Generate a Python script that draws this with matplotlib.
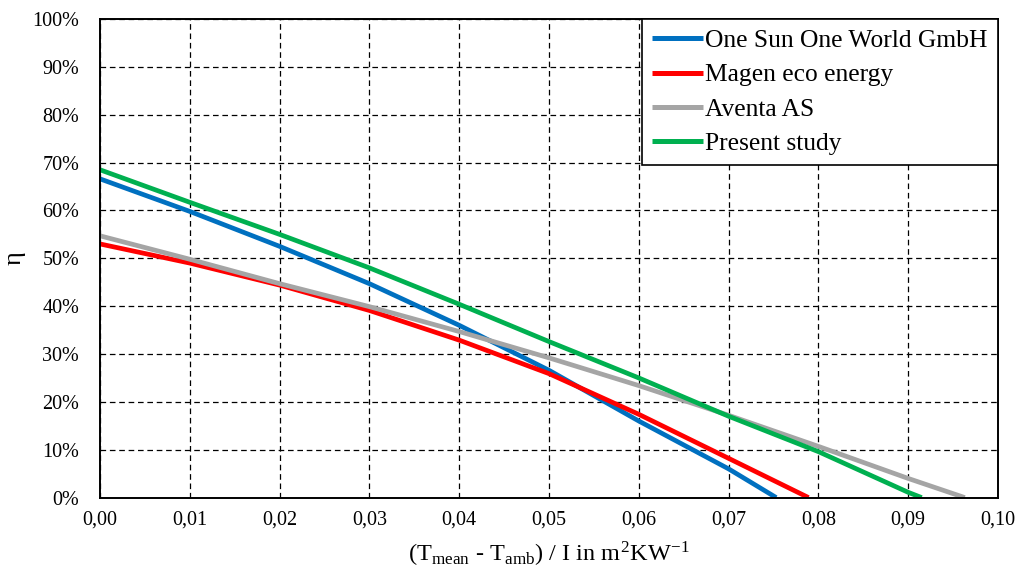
import matplotlib
matplotlib.use("Agg")
import matplotlib.pyplot as plt
from matplotlib.ticker import FuncFormatter, MultipleLocator

plt.rcParams['font.family'] = ['Liberation Serif', 'DejaVu Serif']
plt.rcParams['mathtext.fontset'] = 'stix'

# efficiency curves (x in m2K/W, eta in %)
x_onesun = [0.0, 0.01, 0.02, 0.03, 0.04, 0.05, 0.06, 0.07, 0.0753]
eta_onesun = [66.6, 59.8, 52.5, 44.7, 36.0, 26.6, 16.0, 6.0, 0.0]

x_magen = [0.0, 0.01, 0.02, 0.03, 0.04, 0.05, 0.06, 0.07, 0.0789]
eta_magen = [53.0, 49.0, 44.4, 39.1, 32.9, 25.9, 17.4, 8.2, 0.0]

x_aventa = [0.0, 0.01, 0.02, 0.03, 0.04, 0.05, 0.06, 0.07, 0.08, 0.09, 0.0963]
eta_aventa = [54.7, 49.8, 44.7, 39.9, 34.7, 29.2, 23.4, 17.2, 10.7, 4.0, 0.0]

x_present = [0.0, 0.01, 0.02, 0.03, 0.04, 0.05, 0.06, 0.07, 0.08, 0.09, 0.0915]
eta_present = [68.5, 61.7, 55.0, 48.0, 40.4, 32.6, 25.0, 17.0, 9.6, 1.1, 0.0]

fig = plt.figure(figsize=(10.18, 5.74), dpi=100)
ax = fig.add_axes([0.0982, 0.1331, 0.8822, 0.8338])

lw = 3.4
ax.plot(x_onesun, [v / 100 for v in eta_onesun], color='#0070C0', lw=lw,
        label='One Sun One World GmbH', solid_capstyle='butt')
ax.plot(x_magen, [v / 100 for v in eta_magen], color='#FF0000', lw=lw,
        label='Magen eco energy', solid_capstyle='butt')
ax.plot(x_aventa, [v / 100 for v in eta_aventa], color='#A5A5A5', lw=lw,
        label='Aventa AS', solid_capstyle='butt')
ax.plot(x_present, [v / 100 for v in eta_present], color='#00B050', lw=lw,
        label='Present study', solid_capstyle='butt')

ax.set_xlim(0, 0.10)
ax.set_ylim(0, 1.0)
ax.xaxis.set_major_locator(MultipleLocator(0.01))
ax.yaxis.set_major_locator(MultipleLocator(0.1))
ax.xaxis.set_major_formatter(FuncFormatter(lambda v, p: ('%.2f' % v).replace('.', ',')))
ax.yaxis.set_major_formatter(FuncFormatter(lambda v, p: '%d%%' % round(v * 100)))
ax.tick_params(length=0, labelsize=14.5)
ax.tick_params(axis='x', pad=9)
ax.tick_params(axis='y', pad=15)

ax.grid(True, color='black', linestyle=(0, (4.5, 3)), linewidth=0.9)
ax.set_axisbelow(True)
for s in ax.spines.values():
    s.set_linewidth(1.4)
    s.set_color('black')

ax.set_xlabel('(T$_\\mathregular{mean}$ - T$_\\mathregular{amb}$) / I in m$^\\mathregular{2}$KW$^\\mathregular{-1}$',
              fontsize=17.5, labelpad=8)
ax.set_ylabel('\u03b7', fontsize=19, labelpad=5)

leg = ax.legend(loc='upper right', borderaxespad=0, fontsize=18.4, frameon=True,
                fancybox=False, handlelength=2.0, handletextpad=0.1,
                labelspacing=0.45, borderpad=0.4)
leg.get_frame().set_edgecolor('black')
leg.get_frame().set_linewidth(1.2)
leg.get_frame().set_alpha(1)
for h in leg.get_lines():
    h.set_linewidth(3.6)

fig.savefig('out.png', dpi=100)
